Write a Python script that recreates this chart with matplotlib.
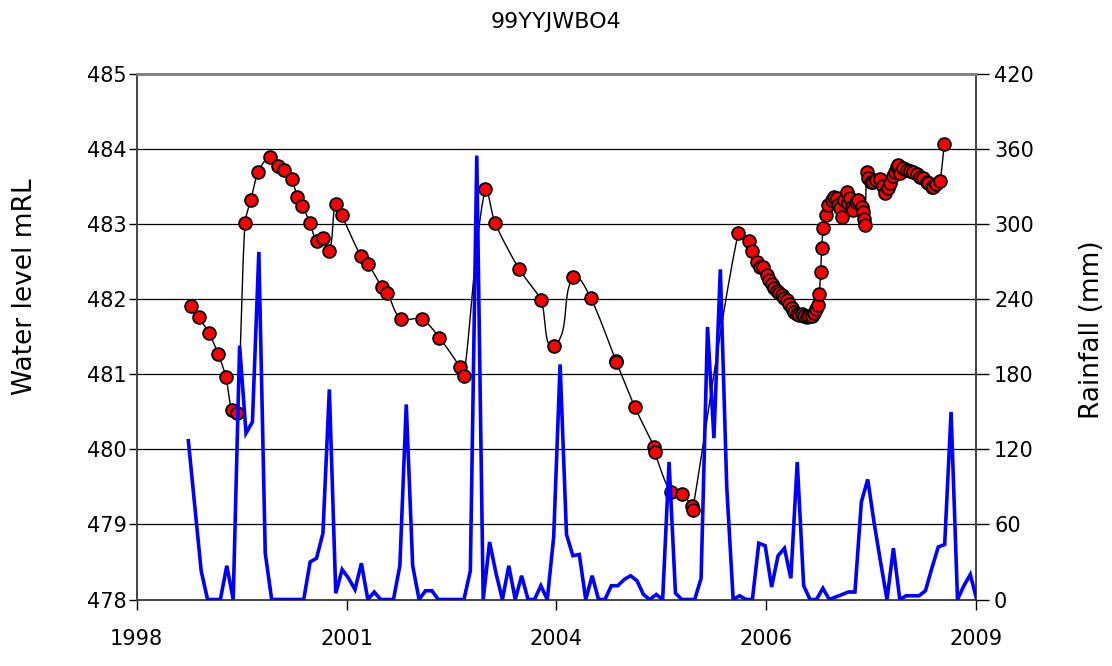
import numpy as np
import matplotlib
matplotlib.use("Agg")
import matplotlib.pyplot as plt
import pandas as pd

# ---------------- data ----------------
title = "99YYJWBO4"

rain_start = "1999-05-01"
rain_mm = [127, 75, 23, 0, 0, 0, 27, 0, 203, 133,
           142, 278, 37, 0, 0, 0, 0, 0, 0, 30,
           33, 53, 168, 5, 24, 17, 8, 29, 0, 6,
           0, 0, 0, 27, 156, 27, 0, 7, 7, 0,
           0, 0, 0, 0, 23, 355, 0, 46, 21, 0,
           27, 0, 19, 0, 0, 11, 0, 50, 188, 52,
           35, 36, 0, 19, 0, 0, 11, 11, 16, 19,
           15, 4, 0, 4, 0, 110, 5, 0, 0, 0,
           17, 218, 129, 264, 90, 0, 3, 0, 0, 45,
           43, 10, 35, 41, 17, 110, 11, 0, 0, 9,
           0, 2, 4, 6, 6, 78, 96, 61, 30, 0,
           41, 0, 3, 3, 3, 7, 25, 42, 44, 150,
           0, 11, 20, 0]

wl_year = [1999.368, 1999.472, 1999.602, 1999.723, 1999.823, 1999.897, 1999.970,
           2000.070, 2000.144, 2000.243, 2000.395, 2000.495, 2000.577, 2000.677,
           2000.750, 2000.815, 2000.915, 2001.002, 2001.080, 2001.166, 2001.249,
           2001.327, 2001.574, 2001.673, 2001.847, 2001.920, 2002.094, 2002.367,
           2002.596, 2002.865, 2002.917, 2003.190, 2003.320, 2003.636, 2003.918,
           2004.091, 2004.338, 2004.564, 2004.893, 2004.900, 2005.140, 2005.391,
           2005.395, 2005.604, 2005.747, 2005.877, 2005.890, 2006.483,
           2006.623, 2006.665, 2006.723, 2006.766, 2006.808, 2006.853, 2006.883,
           2006.918, 2006.948, 2006.983, 2007.013, 2007.048, 2007.078, 2007.113,
           2007.143, 2007.178, 2007.208, 2007.243, 2007.273, 2007.308, 2007.338,
           2007.373, 2007.403, 2007.438, 2007.468, 2007.500, 2007.524, 2007.537,
           2007.555, 2007.568, 2007.588, 2007.624, 2007.653, 2007.698, 2007.728,
           2007.763, 2007.783, 2007.806, 2007.828, 2007.858, 2007.893, 2007.913,
           2007.936, 2007.958, 2007.979, 2008.014, 2008.044, 2008.088, 2008.109,
           2008.122, 2008.131, 2008.153, 2008.174, 2008.209, 2008.239, 2008.280,
           2008.326, 2008.365, 2008.391, 2008.430, 2008.456, 2008.495, 2008.521,
           2008.543, 2008.564, 2008.586, 2008.629, 2008.673, 2008.716, 2008.759,
           2008.803, 2008.846, 2008.889, 2008.933, 2008.954, 2008.998, 2009.019,
           2009.060, 2009.106, 2009.162]

wl_m = [481.91, 481.76, 481.55, 481.27, 480.96, 480.53, 480.49,
        483.02, 483.32, 483.70, 483.90, 483.78, 483.73, 483.60,
        483.37, 483.25, 483.02, 482.78, 482.82, 482.65, 483.27,
        483.12, 482.58, 482.47, 482.17, 482.09, 481.74, 481.74,
        481.49, 481.10, 480.98, 483.47, 483.02, 482.40, 481.99,
        481.38, 482.30, 482.02, 481.18, 481.16, 480.56, 480.03,
        479.97, 479.43, 479.41, 479.25, 479.19, 482.89,
        482.780, 482.651, 482.500, 482.433, 482.437, 482.327, 482.260,
        482.207, 482.153, 482.113, 482.080, 482.053, 482.020, 481.987,
        481.933, 481.887, 481.833, 481.800, 481.793, 481.807, 481.780,
        481.771, 481.773, 481.780, 481.813, 481.873, 481.927, 482.073,
        482.371, 482.683, 482.949, 483.127, 483.260, 483.327, 483.363,
        483.349, 483.260, 483.216, 483.104, 483.327, 483.437, 483.283,
        483.349, 483.237, 483.193, 483.300, 483.327, 483.237, 483.167,
        483.073, 482.993, 483.704, 483.616, 483.567, 483.571, 483.593,
        483.607, 483.513, 483.416, 483.487, 483.549, 483.647, 483.700,
        483.771, 483.793, 483.683, 483.749, 483.727, 483.713, 483.693,
        483.673, 483.637, 483.616, 483.571, 483.549, 483.504, 483.500,
        483.540, 483.584, 484.069]

x_tick_labels = ["1998", "2001", "2004", "2006", "2009"]
x_min, x_max = 1998.662, 2009.574
left_ticks = list(range(478, 486))
right_ticks = list(range(0, 421, 60))

# ---------------- helpers ----------------
rain_dates = pd.date_range(rain_start, periods=len(rain_mm), freq="MS")
rain_x = rain_dates.year + (rain_dates.month - 1) / 12.0


def smooth_curve(xs, ys, sx=76.9, sy=75.0, n=10, k=0.28):
    """Smoothed line through the points, with tangents limited per segment
    so long steep segments do not overshoot."""
    P = np.column_stack([np.asarray(xs) * sx, np.asarray(ys) * sy])
    N = len(P)

    def direction(i):
        a = P[max(i - 1, 0)]
        b = P[min(i + 1, N - 1)]
        d = b - a
        nd = np.hypot(*d)
        return d / nd if nd > 0 else d

    out = [P[:1]]
    t = np.linspace(0, 1, n)[:, None]
    for i in range(N - 1):
        p1, p2 = P[i], P[i + 1]
        L = np.hypot(*(p2 - p1))
        c1 = p1 + direction(i) * L * k
        c2 = p2 - direction(i + 1) * L * k
        seg = (1 - t) ** 3 * p1 + 3 * (1 - t) ** 2 * t * c1 + 3 * (1 - t) * t ** 2 * c2 + t ** 3 * p2
        out.append(seg[1:])
    Q = np.vstack(out)
    return Q[:, 0] / sx, Q[:, 1] / sy


# ---------------- figure ----------------
plt.rcParams["font.family"] = ["DejaVu Sans"]
fig = plt.figure(figsize=(11.12, 6.66), dpi=100)
L, R, B, T = 136.7 / 1112, 976 / 1112, 1 - 599.5 / 666, 1 - 74.3 / 666
ax = fig.add_axes([L, B, R - L, T - B])
ax2 = ax.twinx()

# water level
sx_, sy_ = smooth_curve(wl_year, wl_m)
ax.plot(sx_, sy_, color="black", lw=1.0, zorder=3)
ax.plot(wl_year, wl_m, linestyle="none", marker="o", ms=9.2,
        mfc="#ff0000", mec="black", mew=1.3, zorder=4)

# rainfall
ax2.plot(rain_x, rain_mm, color="#0000ff", lw=2.6, solid_joinstyle="miter", zorder=5)

ax.set_xlim(x_min, x_max)
ax.set_ylim(478, 485)
ax2.set_ylim(0, 420)

step = (x_max - x_min) / 4
ax.set_xticks([x_min + i * step for i in range(5)])
ax.set_xticklabels(x_tick_labels)
ax.set_yticks(left_ticks)
ax2.set_yticks(right_ticks)

ax.yaxis.grid(True, color="black", lw=0.9)
ax.tick_params(axis="y", direction="out", length=6, width=1.0, labelsize=15, pad=1)
ax.tick_params(axis="x", direction="out", length=7, width=1.0, labelsize=15, pad=14)
ax2.tick_params(axis="y", direction="out", length=9, width=1.0, labelsize=15, pad=4)

for a in (ax, ax2):
    for s in ("left", "right", "bottom"):
        a.spines[s].set_color("#444444")
        a.spines[s].set_linewidth(1.2)
    a.spines["top"].set_color("#808080")
    a.spines["top"].set_linewidth(1.8)

fig.text(556 / 1112, 1 - 22 / 666, title, ha="center", va="center", fontsize=16)
fig.text(25 / 1112, 1 - 287 / 666, "Water level mRL", rotation=90,
         ha="center", va="center", fontsize=19)
fig.text(1092 / 1112, 1 - 330 / 666, "Rainfall (mm)", rotation=90,
         ha="center", va="center", fontsize=19)

fig.savefig("out.png", dpi=100)
